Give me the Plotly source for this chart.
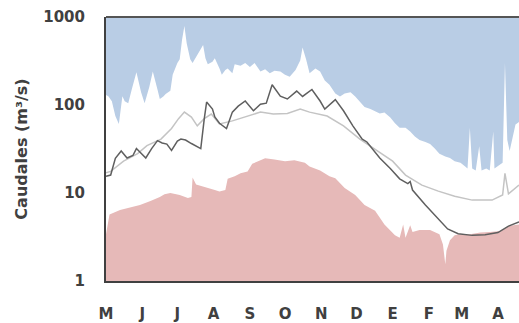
import plotly.graph_objects as go

# Hydrological year, day 0 = 1 May
month_labels = ["M", "J", "J", "A", "S", "O", "N", "D", "E", "F", "M", "A"]
month_days = [0, 31, 61, 92, 123, 153, 184, 214, 245, 276, 304, 335]

# Daily maximum flow envelope (m3/s)
max_days = [0, 2, 5, 8, 11, 14, 16, 19, 22, 26, 30, 33, 37, 40, 44, 46, 49, 51, 55, 57,
            61, 63, 65, 67, 69, 72, 74, 77, 80, 83, 85, 87, 91, 93, 97, 99, 102, 104, 108, 110,
            115, 119, 123, 127, 132, 136, 140, 144, 149, 153, 157, 162, 166, 168, 171, 174, 179, 183, 187, 191,
            196, 200, 204, 209, 213, 217, 221, 226, 230, 234, 238, 243, 247, 251, 256, 260, 264, 268, 273, 277,
            281, 285, 290, 294, 298, 303, 307, 309, 311, 313, 316, 319, 321, 325, 328, 331, 332, 337, 339, 341,
            343, 345, 350, 353]
max_flow = [130, 126, 110, 75, 61, 126, 110, 105, 150, 235, 140, 105, 160, 240, 150, 117, 125, 133, 145, 220,
            300, 330, 550, 790, 500, 330, 300, 350, 400, 480, 340, 290, 310, 340, 260, 220, 250, 260, 230, 290,
            280, 300, 270, 300, 240, 255, 230, 245, 240, 220, 210, 250, 320, 450, 330, 230, 260, 240, 190, 170,
            135, 125, 135, 140, 125, 110, 95, 90, 85, 80, 82, 72, 62, 55, 55, 50, 44, 40, 38, 36,
            32, 28, 26, 25, 23, 22, 20, 19, 55, 19, 18, 34, 18, 19, 18, 50, 19, 21, 22, 300,
            40, 30, 60, 64]

# Daily minimum flow envelope (m3/s)
min_days = [0, 3, 12, 20, 29, 38, 46, 50, 55, 63, 70, 73, 74, 77, 85, 93, 97, 102, 104, 110,
            115, 121, 125, 132, 136, 144, 153, 161, 170, 174, 183, 191, 196, 204, 213, 221, 230, 238, 247, 251,
            254, 256, 260, 262, 268, 277, 285, 288, 290, 291, 294, 298, 302, 311, 320, 328, 337, 341, 345, 353]
min_flow = [3.4, 5.7, 6.4, 6.8, 7.3, 8.1, 9.0, 9.7, 10, 9.5, 8.8, 9.0, 15, 12.5, 11.5, 10.8, 10.4, 10.8, 14.5, 15.5,
            16.8, 17.5, 21.5, 23.5, 24.8, 24, 23, 23.5, 22, 20, 18, 15.5, 14.7, 11.4, 9.5, 7.3, 6.3, 4.4, 3.3, 3.1,
            4.4, 3.1, 4.3, 3.6, 3.8, 3.8, 3.4, 2.6, 1.55, 2.2, 2.9, 3.3, 3.4, 3.4, 3.55, 3.6, 3.7, 4.0, 4.25, 4.4]

# Flows of one particular year (m3/s)
year_days = [0, 4, 8, 13, 18, 23, 26, 34, 39, 44, 48, 52, 56, 61, 64, 68, 73, 78, 81, 84,
             86, 91, 93, 97, 103, 108, 113, 119, 126, 132, 137, 142, 149, 155, 163, 168, 176, 183, 187, 196,
             203, 211, 219, 223, 234, 243, 251, 255, 258, 260, 262, 273, 284, 292, 301, 313, 324, 335, 344, 353]
year_flow = [15.5, 16, 24.8, 30, 25, 26.7, 32, 25, 32, 39.4, 37, 36, 30.4, 39, 41, 40, 36.5, 34, 32, 70,
             108, 90, 73, 62, 54, 83, 97, 111, 86, 102, 105, 170, 126, 117, 144, 125, 150, 111, 90, 115,
             86, 58, 41, 38, 25, 19, 14.5, 13.5, 12.8, 13.5, 10.8, 7.3, 5, 3.9, 3.45, 3.3, 3.35, 3.55, 4.2, 4.7]

# Median daily flow (m3/s)
median_days = [0, 4, 15, 27, 35, 47, 56, 62, 67, 73, 78, 84, 90, 97, 108, 121, 132, 143, 155, 166,
               174, 189, 203, 217, 232, 245, 256, 270, 284, 298, 313, 330, 339, 341, 344, 353]
median_flow = [17, 17.6, 23, 28, 34.5, 41, 54, 70, 83, 73, 58, 70, 79, 61, 66, 75, 83, 79, 80, 90,
               83, 75, 58, 41, 30, 23, 16, 12.3, 10.5, 9.2, 8.3, 8.3, 9.5, 16.7, 9.8, 12.3]

x_end = 353

fig = go.Figure()

# Blue band: from the maximum envelope up to the top of the axis
fig.add_trace(go.Scatter(x=[0, x_end], y=[1000, 1000], mode="lines",
                         line=dict(width=0), hoverinfo="skip", showlegend=False))
fig.add_trace(go.Scatter(x=max_days, y=max_flow, mode="lines", fill="tonexty",
                         fillcolor="#b9cde5", line=dict(width=0, color="#b9cde5"),
                         name="Máximo", showlegend=False))

# Red band: from the bottom of the axis up to the minimum envelope
fig.add_trace(go.Scatter(x=[0, x_end], y=[1, 1], mode="lines",
                         line=dict(width=0), hoverinfo="skip", showlegend=False))
fig.add_trace(go.Scatter(x=min_days, y=min_flow, mode="lines", fill="tonexty",
                         fillcolor="#e6b9b8", line=dict(width=0, color="#e6b9b8"),
                         name="Mínimo", showlegend=False))

fig.add_trace(go.Scatter(x=median_days, y=median_flow, mode="lines",
                         line=dict(color="#c4c4c4", width=1.5),
                         name="Mediana", showlegend=False))
fig.add_trace(go.Scatter(x=year_days, y=year_flow, mode="lines",
                         line=dict(color="#5f5f5f", width=1.5),
                         name="Año", showlegend=False))

tick_font = dict(family="DejaVu Sans", size=15, color="#404040")

fig.update_layout(
    width=519, height=323,
    margin=dict(l=106, r=0, t=17, b=39),
    paper_bgcolor="white", plot_bgcolor="white",
    xaxis=dict(range=[0, x_end], tickvals=month_days,
               ticktext=["<b>%s</b>" % m for m in month_labels],
               showgrid=False, zeroline=False, showline=True, linecolor="#404040",
               linewidth=2, ticks="outside", ticklen=18, tickcolor="rgba(0,0,0,0)",
               tickfont=tick_font),
    yaxis=dict(type="log", range=[0, 3], tickvals=[1, 10, 100, 1000],
               ticktext=["<b>1</b>", "<b>10</b>", "<b>100</b>", "<b>1000</b>"],
               showgrid=False, zeroline=False, showline=True, linecolor="#404040",
               linewidth=2, ticks="outside", ticklen=16, tickcolor="rgba(0,0,0,0)",
               tickfont=tick_font,
               title=dict(text="<b>Caudales (m³/s)</b>", standoff=12,
                          font=dict(family="DejaVu Sans", size=16, color="#404040"))),
    shapes=[dict(type="line", xref="paper", yref="paper", x0=0, x1=1, y0=1, y1=1,
                 line=dict(color="#555555", width=2))],
)

fig.write_html("out.html")
